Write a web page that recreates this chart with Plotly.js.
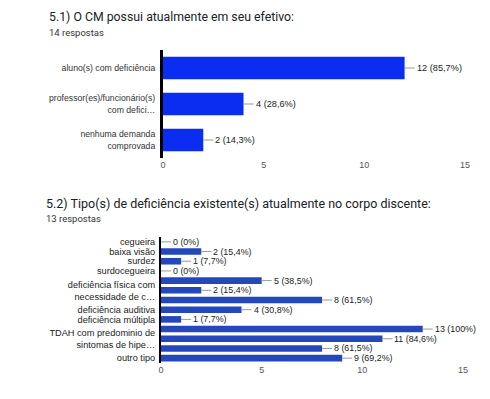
<!DOCTYPE html>
<html>
<head>
<meta charset="utf-8">
<script src="https://cdn.plot.ly/plotly-3.0.1.min.js"></script>
<style>html,body{margin:0;padding:0;background:#fff;}#chart{width:490px;height:399px;}</style>
</head>
<body>
<div id="chart"></div>
<script>
// Chart 1
const title1 = "5.1) O CM possui atualmente em seu efetivo:";
const sub1 = "14 respostas";
const cats1 = ["aluno(s) com deficiência", "professor(es)/funcionário(s)<br>com defici…", "nenhuma demanda<br>comprovada"];
const vals1 = [12, 4, 2];
const labels1 = ["12 (85,7%)", "4 (28,6%)", "2 (14,3%)"];

// Chart 2
const title2 = "5.2) Tipo(s) de deficiência existente(s) atualmente no corpo discente:";
const sub2 = "13 respostas";
const cats2 = ["cegueira", "baixa visão", "surdez", "surdocegueira", "", "deficiência física com<br>necessidade de c…", "", "deficiência auditiva", "deficiência múltipla", "", "TDAH com predominio de<br>sintomas de hipe…", "", "outro tipo"];
const vals2 = [0, 2, 1, 0, 5, 2, 8, 4, 1, 13, 11, 8, 9];
const labels2 = ["0 (0%)", "2 (15,4%)", "1 (7,7%)", "0 (0%)", "5 (38,5%)", "2 (15,4%)", "8 (61,5%)", "4 (30,8%)", "1 (7,7%)", "13 (100%)", "11 (84,6%)", "8 (61,5%)", "9 (69,2%)"];
const xTicks = [0, 5, 10, 15];

const W = 490, H = 399;
const px = v => v / W;
const py = v => 1 - v / H;

const pos1 = cats1.map((_, i) => i);
const pos2 = cats2.map((_, i) => i);

const traces = [
  {type: 'bar', orientation: 'h', x: vals1, y: pos1, xaxis: 'x', yaxis: 'y',
   marker: {color: '#0b2df2'}, width: 0.62, hoverinfo: 'none'},
  {type: 'bar', orientation: 'h', x: vals2, y: pos2, xaxis: 'x2', yaxis: 'y2',
   marker: {color: '#2448bb'}, width: 0.68, hoverinfo: 'none'}
];

const annotations = [
  {text: title1, xref: 'paper', yref: 'paper', x: px(47), y: py(17), xanchor: 'left', yanchor: 'middle', showarrow: false,
   font: {family: 'Roboto', size: 12.3, color: '#202124'}},
  {text: sub1, xref: 'paper', yref: 'paper', x: px(47), y: py(33), xanchor: 'left', yanchor: 'middle', showarrow: false,
   font: {family: 'Roboto', size: 9.5, color: '#333'}},
  {text: title2, xref: 'paper', yref: 'paper', x: px(44), y: py(203), xanchor: 'left', yanchor: 'middle', showarrow: false,
   font: {family: 'Roboto', size: 12.5, color: '#202124'}},
  {text: sub2, xref: 'paper', yref: 'paper', x: px(44), y: py(218), xanchor: 'left', yanchor: 'middle', showarrow: false,
   font: {family: 'Roboto', size: 9.5, color: '#333'}}
];

vals1.forEach((v, i) => annotations.push({
  text: labels1[i], x: v, y: pos1[i], xref: 'x', yref: 'y', showarrow: true, arrowhead: 0,
  arrowwidth: 1, arrowcolor: '#999', ax: 10, ay: 0, xanchor: 'left', standoff: 0, startstandoff: 0,
  font: {family: 'Arial', size: 9.2, color: '#222'}
}));
vals2.forEach((v, i) => annotations.push({
  text: labels2[i], x: v, y: pos2[i], xref: 'x2', yref: 'y2', showarrow: true, arrowhead: 0,
  arrowwidth: 1, arrowcolor: '#999', ax: 10, ay: 0, xanchor: 'left', standoff: 0, startstandoff: 0,
  font: {family: 'Arial', size: 8.9, color: '#222'}
}));

const tickFont = {family: 'Arial', size: 9, color: '#555'};

const layout = {
  width: W, height: H,
  margin: {l: 0, r: 0, t: 0, b: 0},
  paper_bgcolor: '#fff', plot_bgcolor: '#fff',
  showlegend: false,
  bargap: 0.35,
  xaxis: {domain: [px(163), px(465)], range: [0, 15], tickvals: xTicks, ticktext: xTicks.map(String),
    showgrid: false, zeroline: false, showline: false, ticks: '', tickfont: tickFont, anchor: 'y', fixedrange: true},
  yaxis: {domain: [py(158), py(50)], range: [2.5, -0.5], tickvals: pos1, ticktext: cats1,
    showgrid: false, zeroline: false, showline: true, linecolor: '#000', linewidth: 3, ticks: '',
    ticklabelstandoff: 3, tickfont: {family: 'Arial', size: 8.7, color: '#333'}, anchor: 'x', fixedrange: true},
  xaxis2: {domain: [px(161), px(463)], range: [0, 15], tickvals: xTicks, ticktext: xTicks.map(String),
    showgrid: false, zeroline: false, showline: false, ticks: '', tickfont: tickFont, anchor: 'y2', fixedrange: true},
  yaxis2: {domain: [py(363), py(237)], range: [12.5, -0.5], tickvals: pos2, ticktext: cats2,
    showgrid: false, zeroline: false, showline: true, linecolor: '#000', linewidth: 2, ticks: '',
    ticklabelstandoff: 2, tickfont: {family: 'Arial', size: 9.2, color: '#222'}, anchor: 'x2', fixedrange: true},
  annotations: annotations
};

Plotly.newPlot('chart', traces, layout, {displayModeBar: false, staticPlot: true});
</script>
</body>
</html>
